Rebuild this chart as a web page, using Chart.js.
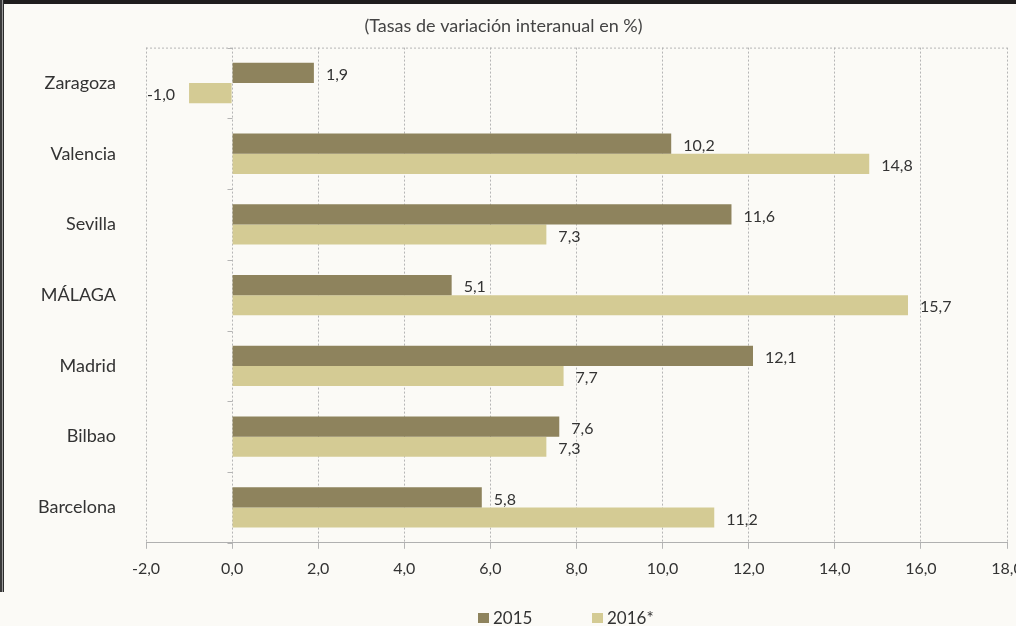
<!DOCTYPE html>
<html>
<head>
<meta charset="utf-8">
<script src="https://cdn.jsdelivr.net/npm/chart.js@4.4.1/dist/chart.umd.min.js"></script>
<style>
  html, body { margin: 0; padding: 0; background: #fbfaf6; }
  #wrap { width: 1016px; height: 626px; }
</style>
</head>
<body>
<div id="wrap"><canvas id="chart" width="1016" height="626"></canvas></div>
<script>
// datos (tasas de variación interanual, %)
const cities = ['Zaragoza', 'Valencia', 'Sevilla', 'MÁLAGA', 'Madrid', 'Bilbao', 'Barcelona'];
const values2015 = [1.9, 10.2, 11.6, 5.1, 12.1, 7.6, 5.8];
const values2016 = [-1.0, 14.8, 7.3, 15.7, 7.7, 7.3, 11.2];
const seriesNames = ['2015', '2016*'];
const subtitle = '(Tasas de variación interanual en %)';
const xMin = -2, xMax = 18, xStep = 2;

const FONT = 'Lato, "Open Sans", sans-serif';
const COLORS = ['#8e835d', '#d4cb94'];
const fmt = v => v.toFixed(1).replace('.', ',');

// fondo, marco y leyenda
const framePlugin = {
    id: 'frame',
    beforeDraw(chart) {
        const c = chart.ctx;
        c.save();
        c.fillStyle = '#fbfaf6';
        c.fillRect(0, 0, chart.width, chart.height);
        c.restore();
    },
    afterDraw(chart) {
        const c = chart.ctx;
        const a = chart.chartArea;
        const y = chart.scales.y;
        const x = chart.scales.x;
        c.save();
        // banda oscura superior y borde izquierdo
        c.fillStyle = '#1f1d1d';
        c.fillRect(0, 0, chart.width, 4);
        c.fillStyle = '#3a3a3a';
        c.fillRect(0, 0, 2, 592);
        c.fillStyle = '#9a9a9a';
        c.fillRect(2, 0, 1, 592);
        c.fillStyle = '#2b2b2b';
        c.fillRect(3, 0, 1, 592);
        // borde superior punteado
        c.strokeStyle = '#b5b5b5';
        c.lineWidth = 1;
        c.setLineDash([2, 2]);
        c.beginPath();
        c.moveTo(a.left, a.top + 0.5);
        c.lineTo(a.right, a.top + 0.5);
        c.stroke();
        // marcas en el eje cero
        c.setLineDash([]);
        const x0 = Math.round(x.getPixelForValue(0)) + 0.5;
        for (let i = 0; i <= cities.length; i++) {
            const py = Math.round(y.getPixelForValue(i - 0.5)) + 0.5;
            c.beginPath();
            c.moveTo(x0 - 5, py);
            c.lineTo(x0, py);
            c.stroke();
        }
        // leyenda
        c.font = '17px ' + FONT;
        c.textBaseline = 'middle';
        c.textAlign = 'left';
        const lx = [478, 592];
        chart.data.datasets.forEach((ds, i) => {
            c.fillStyle = ds.backgroundColor;
            c.fillRect(lx[i], 613, 11, 10);
            c.fillStyle = '#333';
            c.fillText(ds.label, lx[i] + 15, 619);
        });
        c.restore();
    }
};

// etiquetas de valor junto a cada barra
const valueLabels = {
    id: 'valueLabels',
    afterDatasetsDraw(chart) {
        const c = chart.ctx;
        c.save();
        c.font = '16px ' + FONT;
        c.fillStyle = '#333';
        c.textBaseline = 'middle';
        chart.data.datasets.forEach((ds, di) => {
            chart.getDatasetMeta(di).data.forEach((bar, i) => {
                const v = ds.data[i];
                if (v < 0) {
                    c.textAlign = 'right';
                    c.fillText(fmt(v), bar.x - 14, bar.y + 2);
                } else {
                    c.textAlign = 'left';
                    c.fillText(fmt(v), bar.x + 12, bar.y + 2);
                }
            });
        });
        c.restore();
    }
};

new Chart(document.getElementById('chart'), {
    type: 'bar',
    data: {
        labels: cities,
        datasets: [
            { label: seriesNames[0], data: values2015, backgroundColor: COLORS[0] },
            { label: seriesNames[1], data: values2016, backgroundColor: COLORS[1] }
        ]
    },
    options: {
        indexAxis: 'y',
        responsive: false,
        animation: false,
        devicePixelRatio: 1,
        categoryPercentage: 0.57,
        barPercentage: 1,
        layout: { padding: { left: 0, right: 9, top: 0, bottom: 38 } },
        plugins: {
            legend: { display: false },
            tooltip: { enabled: false },
            title: {
                display: true,
                text: subtitle,
                color: '#444',
                font: { family: FONT, size: 18, weight: 'normal' },
                padding: { top: 15, bottom: 11 }
            }
        },
        scales: {
            x: {
                min: xMin, max: xMax,
                ticks: {
                    stepSize: xStep,
                    color: '#333',
                    padding: 10,
                    maxRotation: 0,
                    font: { family: FONT, size: 16 },
                    callback: v => fmt(v)
                },
                grid: { color: '#b5b5b5', lineWidth: 1, tickLength: 6, tickColor: '#b5b5b5' },
                border: { color: '#b0b0b0', dash: [2, 2] },
                afterFit(s) { s.paddingLeft = 0; s.paddingRight = 0; }
            },
            y: {
                ticks: { color: '#333', padding: 30, font: { family: FONT, size: 18 } },
                grid: { display: false, drawTicks: false },
                border: { display: false },
                afterFit(s) { s.width = 146; }
            }
        }
    },
    plugins: [framePlugin, valueLabels]
});
</script>
</body>
</html>
